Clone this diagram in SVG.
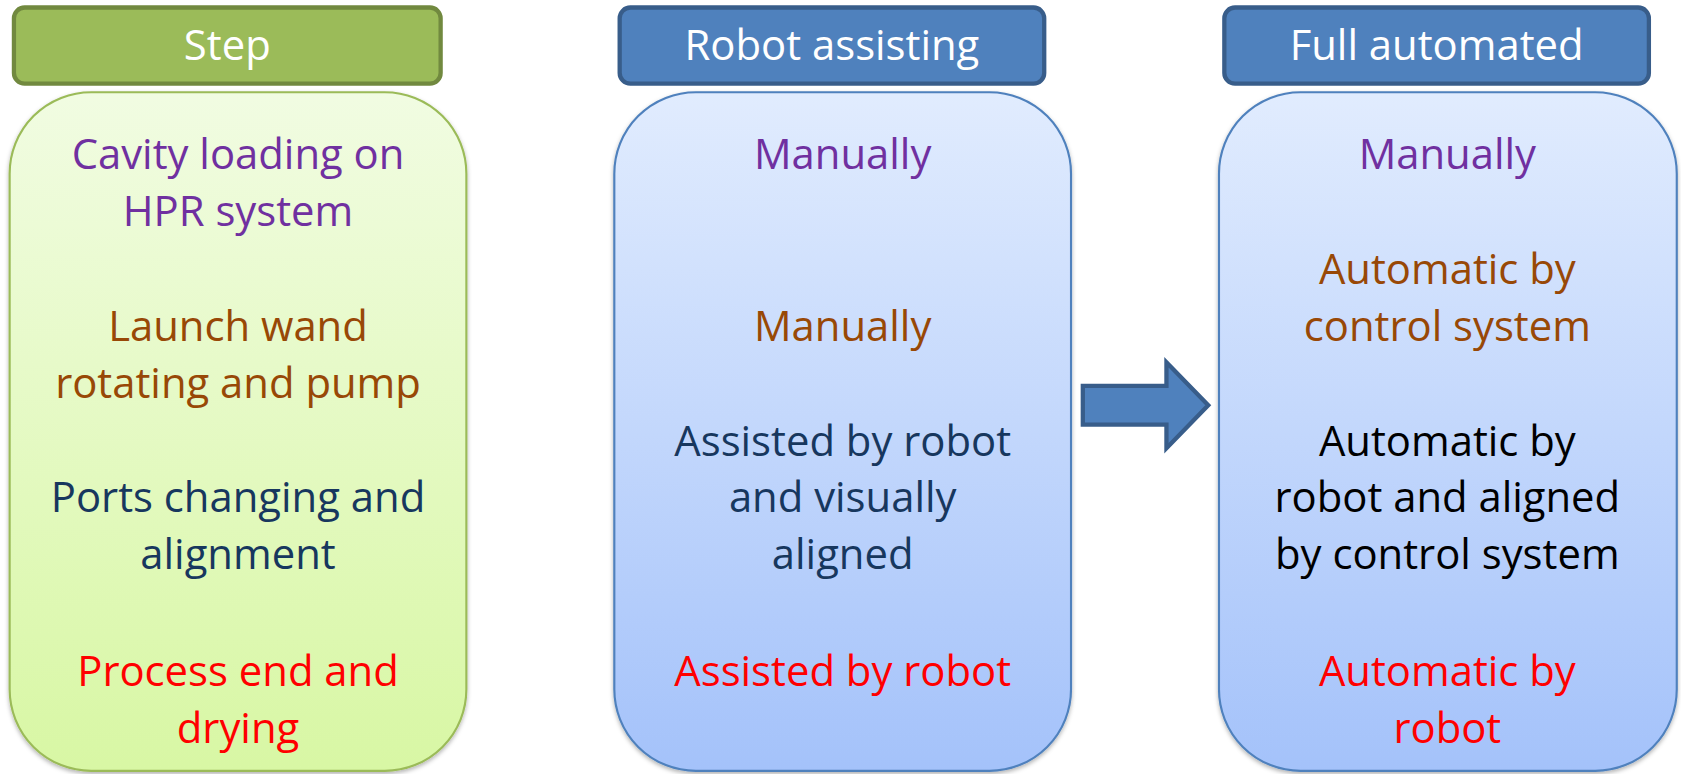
<svg xmlns="http://www.w3.org/2000/svg" width="1681" height="774" viewBox="0 0 1681 774">
<defs>
<linearGradient id="gGreen" x1="0" y1="0" x2="0" y2="1"><stop offset="0" stop-color="#F1FCE2"/><stop offset="1" stop-color="#D8F7A4"/></linearGradient>
<linearGradient id="gBlue" x1="0" y1="0" x2="0" y2="1"><stop offset="0" stop-color="#E1ECFE"/><stop offset="1" stop-color="#A4C2FA"/></linearGradient>
<filter id="sh" x="-5%" y="-5%" width="110%" height="110%"><feDropShadow dx="0" dy="2" stdDeviation="2" flood-color="#000" flood-opacity="0.3"/></filter>
</defs>
<style>
text{font-family:"Open Sans","Noto Sans","Liberation Sans",sans-serif;text-anchor:middle;font-size:39px}
.hd{fill:#fff}
.pu{fill:#7030A0}.br{fill:#984806}.nv{fill:#17375E}.rd{fill:#FF0000}.bk{fill:#000}
.hg{fill:#9BBB59;stroke:#71893F;stroke-width:4}
.hb{fill:#4F81BD;stroke:#385D8A;stroke-width:4}
.bg{fill:url(#gGreen);stroke:#9BBB59;stroke-width:2;filter:url(#sh)}
.bb{fill:url(#gBlue);stroke:#4F81BD;stroke-width:2;filter:url(#sh)}
</style>
<g transform="scale(1.0721)">
<g id="hdr-step"><rect class="hg" x="13" y="7" width="398" height="71" rx="10"/><text class="hd" x="212" y="56">Step</text></g>
<g id="hdr-robot"><rect class="hb" x="578" y="7" width="396" height="71" rx="10"/><text class="hd" x="776" y="56">Robot assisting</text></g>
<g id="hdr-full"><rect class="hb" x="1142" y="7" width="396" height="71" rx="10"/><text class="hd" x="1340" y="56">Full automated</text></g>
<g id="col-step"><rect class="bg" x="9" y="86" width="426" height="633" rx="76"/>
<text class="pu" x="222" y="158">Cavity loading on</text><text class="pu" x="222" y="211">HPR system</text>
<text class="br" x="222" y="318">Launch wand</text><text class="br" x="222" y="371">rotating and pump</text>
<text class="nv" x="222" y="478">Ports changing and</text><text class="nv" x="222" y="531">alignment</text>
<text class="rd" x="222" y="640">Process end and</text><text class="rd" x="222" y="693">drying</text></g>
<g id="col-robot"><rect class="bb" x="573" y="86" width="426" height="633" rx="76"/>
<text class="pu" x="786" y="158">Manually</text>
<text class="br" x="786" y="318">Manually</text>
<text class="nv" x="786" y="425">Assisted by robot</text><text class="nv" x="786" y="478">and visually</text><text class="nv" x="786" y="531">aligned</text>
<text class="rd" x="786" y="640">Assisted by robot</text></g>
<g id="col-full"><rect class="bb" x="1137" y="86" width="427" height="633" rx="76"/>
<text class="pu" x="1350" y="158">Manually</text>
<text class="br" x="1350" y="265">Automatic by</text><text class="br" x="1350" y="318">control system</text>
<text class="bk" x="1350" y="425">Automatic by</text><text class="bk" x="1350" y="478">robot and aligned</text><text class="bk" x="1350" y="531">by control system</text>
<text class="rd" x="1350" y="640">Automatic by</text><text class="rd" x="1350" y="693">robot</text></g>
<g id="connectors"><path d="M1010 360 H1088 V338 L1127 378 L1088 418 V396 H1010 Z" fill="#4F81BD" stroke="#385D8A" stroke-width="4" stroke-linejoin="miter"/></g>
</g>
</svg>
